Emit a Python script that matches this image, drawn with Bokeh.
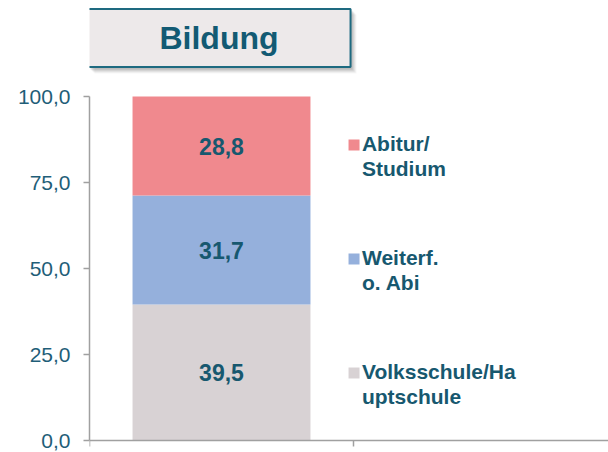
from bokeh.plotting import figure
from bokeh.models import Range1d, FixedTicker, Span, Label, ColumnDataSource
from bokeh.core.properties import value
from bokeh.embed import file_html
from bokeh.resources import INLINE

# ---- data ----
group = ["Bildung"]
categories = ["Volksschule/Ha\nuptschule", "Weiterf.\no. Abi", "Abitur/\nStudium"]
values = [39.5, 31.7, 28.8]
y_ticks = [0, 25, 50, 75, 100]
y_tick_labels = ["0,0", "25,0", "50,0", "75,0", "100,0"]

# ---- style ----
colors = ["#D8D2D4", "#95B0DC", "#F0898E"]
TEXT = "#17586F"
TICKTXT = "#1F5E78"
AXIS = "#A0A0A0"
FONT = "Liberation Sans"

W, H = 608, 452
frame_left, frame_top, frame_bottom = 89, 96, 440   # canvas px
ppu = (frame_bottom - frame_top) / 100.0             # px per unit on y
cat_px = 264.0                                       # px per category on x
y0 = -(H - frame_bottom) / ppu
y1 = 100 + frame_top / ppu
x1 = (W - frame_left) / cat_px

def px_x(px):
    return (px - frame_left) / cat_px

def px_y(py):
    return (frame_bottom - py) / ppu

p = figure(width=W, height=H, output_backend="svg", toolbar_location=None,
           x_range=Range1d(0, x1), y_range=Range1d(y0, y1),
           x_axis_location=None, min_border_left=frame_left, min_border_right=0,
           min_border_top=0, min_border_bottom=0, background_fill_color="white",
           border_fill_color="white", outline_line_color=None)
p.grid.visible = False

# title box shadow (soft, drawn as a few translucent layers)
bx0, bx1, by0, by1 = 88, 350, 8, 67
for off, a in [(6, 0.05), (5, 0.07), (4, 0.09), (3, 0.11), (2, 0.13)]:
    p.quad(left=px_x(bx0 + off), right=px_x(bx1 + off), top=px_y(by0 + off),
           bottom=px_y(by1 + off), fill_color="#505050", fill_alpha=a, line_color=None)

# stacked bar
bottoms, tops = [], []
acc = 0.0
for v in values:
    bottoms.append(acc)
    acc += v
    tops.append(acc)
xc = [i + 0.5 for i in range(len(group))] * len(values)
src = ColumnDataSource(dict(x=xc, bottom=bottoms, top=tops, color=colors,
                            mid=[(b + t) / 2 for b, t in zip(bottoms, tops)],
                            lab=[f"{v:.1f}".replace(".", ",") for v in values]))
p.vbar(x="x", width=0.674, bottom="bottom", top="top", fill_color="color",
       line_color=None, source=src)
p.text(x="x", y="mid", text="lab", source=src, text_align="center",
       text_baseline="middle", text_font=value(FONT), text_font_style="bold",
       text_font_size="23px", text_color=TEXT)

# y axis
ax = p.yaxis[0]
ax.ticker = FixedTicker(ticks=y_ticks)
ax.major_label_overrides = {t: l for t, l in zip(y_ticks, y_tick_labels)}
ax.bounds = (0, 100)
ax.axis_line_color = AXIS
ax.axis_line_width = 1.5
ax.major_tick_line_color = AXIS
ax.major_tick_line_width = 1.5
ax.major_tick_out = 6
ax.major_tick_in = 0
ax.minor_tick_line_color = None
ax.major_label_standoff = 13
ax.major_label_text_font = FONT
ax.major_label_text_font_size = "21px"
ax.major_label_text_color = TICKTXT

# x axis line and category boundary ticks
p.add_layout(Span(location=0, dimension="width", line_color=AXIS, line_width=1.5))
bounds_x = list(range(len(group) + 1))
p.segment(x0=bounds_x, x1=bounds_x, y0=[0] * len(bounds_x), y1=[-6 / ppu] * len(bounds_x),
          line_color=AXIS, line_width=1.5)

# legend (top to bottom: reversed stack order)
leg_first_px, leg_step_px = 144.5, 114.0
leg_x_sq, leg_x_txt = 1.002, 1.032
sq_y, txt_x, txt_y, txt = [], [], [], []
for i, (cat, col) in enumerate(zip(categories[::-1], colors[::-1])):
    cy = leg_first_px + i * leg_step_px
    sq_y.append(px_y(cy))
    for j, line in enumerate(cat.split("\n")):
        txt_x.append(leg_x_txt)
        txt_y.append(px_y(cy - 1.5 + 25 * j))
        txt.append(line)
p.scatter(x=[leg_x_sq] * len(sq_y), y=sq_y, marker="square", size=11,
          fill_color=colors[::-1], line_color=None)
p.text(x=txt_x, y=txt_y, text=txt, text_align="left", text_baseline="alphabetic",
       text_font=value(FONT), text_font_style="bold", text_font_size="21px",
       text_color=TEXT)

# title box
tx = px_x(218.5)
ty = px_y(37.5)
pad = dict(left=72, right=72, top=11, bottom=11)
p.add_layout(Label(x=tx, y=ty, text=group[0], text_align="center",
                   text_baseline="middle", text_font=FONT, text_font_style="bold",
                   text_font_size="32px", text_color="#125A73",
                   background_fill_color="#EDE9EA", border_line_color="#1E6A80",
                   border_line_width=2, padding=pad))

open("out.html", "w").write(file_html(p, INLINE))
